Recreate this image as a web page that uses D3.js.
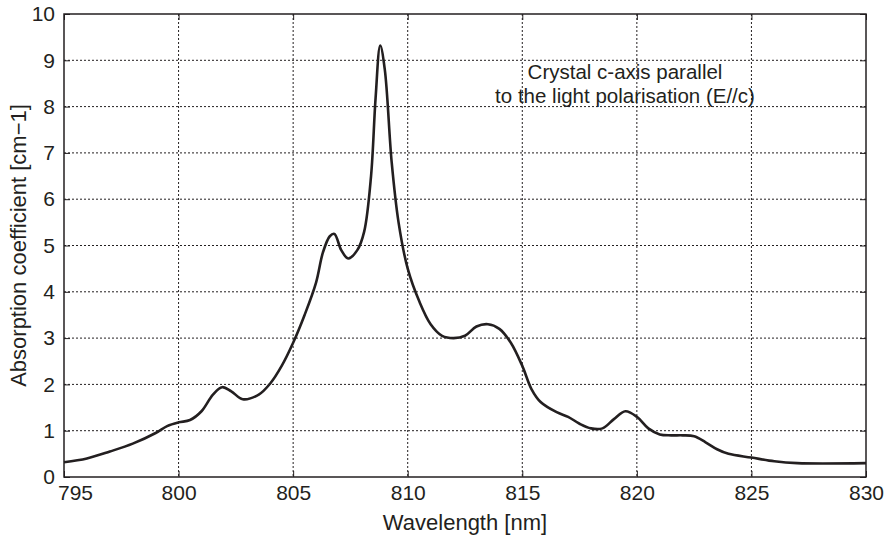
<!DOCTYPE html>
<html>
<head>
<meta charset="utf-8">
<script src="https://cdn.jsdelivr.net/npm/d3@7"></script>
<style>
  body { margin: 0; background: #fff; }
  text { font-family: "Liberation Sans", Arial, sans-serif; fill: #231f20; }
</style>
</head>
<body>
<svg id="chart" width="889" height="543"></svg>
<script>
// wavelength [nm] and absorption coefficient [cm-1]
const wavelength = [795, 796, 797, 798, 799, 799.5, 800, 800.5, 801, 801.5, 801.9, 802.3, 802.8, 803.5, 804, 804.5, 805, 805.5, 806, 806.3, 806.6, 806.8, 807.1, 807.4, 807.8, 808.1, 808.4, 808.6, 808.8, 809.0, 809.3, 809.6, 810, 810.5, 811, 811.5, 812, 812.5, 813, 813.5, 814, 814.5, 815, 815.4, 815.8, 816.5, 817, 817.5, 818, 818.5, 819, 819.5, 820, 820.5, 821, 821.5, 822, 822.5, 823, 823.5, 824, 825, 826, 827, 830];
const absorption = [0.32, 0.4, 0.55, 0.72, 0.95, 1.1, 1.18, 1.23, 1.42, 1.78, 1.94, 1.85, 1.68, 1.78, 2.02, 2.4, 2.9, 3.5, 4.2, 4.85, 5.2, 5.25, 4.9, 4.72, 4.9, 5.3, 6.5, 8.2, 9.32, 8.8, 6.8, 5.5, 4.5, 3.8, 3.3, 3.05, 3.0, 3.05, 3.25, 3.3, 3.2, 2.9, 2.4, 1.9, 1.62, 1.4, 1.3, 1.15, 1.05, 1.05, 1.25, 1.42, 1.3, 1.05, 0.92, 0.9, 0.9, 0.88, 0.75, 0.6, 0.5, 0.42, 0.34, 0.3, 0.3];
const xTicks = [795, 800, 805, 810, 815, 820, 825, 830];
const yTicks = [0, 1, 2, 3, 4, 5, 6, 7, 8, 9, 10];
const noteLines = ["Crystal c-axis parallel", "to the light polarisation (E//c)"];

const margin = {top: 14, right: 23, bottom: 66, left: 64};
const svg = d3.select('#chart');
const width = 889 - margin.left - margin.right,
    height = 543 - margin.top - margin.bottom;

const x = d3.scaleLinear().domain([795, 830]).range([0, width]);
const y = d3.scaleLinear().domain([0, 10]).range([height, 0]);

const g = svg.append('g')
    .attr('transform', 'translate(' + margin.left + ',' + margin.top + ')');

// dotted grid
g.selectAll('.gx').data(xTicks.slice(1, -1)).enter().append('line')
    .attr('x1', d => x(d)).attr('x2', d => x(d))
    .attr('y1', 0).attr('y2', height)
    .attr('stroke', '#231f20').attr('stroke-width', 1)
    .attr('stroke-dasharray', '2 2');
g.selectAll('.gy').data(yTicks.slice(1, -1)).enter().append('line')
    .attr('x1', 0).attr('x2', width)
    .attr('y1', d => y(d)).attr('y2', d => y(d))
    .attr('stroke', '#231f20').attr('stroke-width', 1)
    .attr('stroke-dasharray', '2 2');

// axes with inward ticks
const axisStyle = sel => {
    sel.select('.domain').remove();
    sel.selectAll('line').attr('stroke', '#231f20').attr('stroke-width', 1);
    sel.selectAll('text').style('font-size', '21px');
};
const xAxis = g.append('g').attr('transform', `translate(0,${height})`)
    .call(d3.axisBottom(x).tickValues(xTicks).tickSize(-6).tickPadding(8).tickFormat(d3.format('d')))
    .call(axisStyle);
// first label sits a little right of its tick, clear of the "0"
xAxis.selectAll('.tick text').filter(d => d === 795).attr('dx', 11);
g.append('g')
    .call(d3.axisTop(x).tickValues(xTicks).tickSize(-6).tickFormat(''))
    .call(axisStyle);
g.append('g')
    .call(d3.axisLeft(y).tickValues(yTicks).tickSize(-6).tickPadding(9))
    .call(axisStyle);
g.append('g').attr('transform', `translate(${width},0)`)
    .call(d3.axisRight(y).tickValues(yTicks).tickSize(-6).tickFormat(''))
    .call(axisStyle);

g.append('rect')
    .attr('width', width).attr('height', height)
    .attr('fill', 'none').attr('stroke', '#231f20').attr('stroke-width', 1.5);

// spectrum
const line = d3.line()
    .x((d, i) => x(wavelength[i]))
    .y(d => y(d))
    .curve(d3.curveCatmullRom.alpha(0.5));
g.append('path')
    .datum(absorption)
    .attr('d', line)
    .attr('fill', 'none')
    .attr('stroke', '#231f20')
    .attr('stroke-width', 2.6)
    .attr('stroke-linejoin', 'round');

// annotation
const noteX = 625 - margin.left;
g.append('text')
    .attr('x', noteX).attr('y', 79 - margin.top)
    .attr('text-anchor', 'middle')
    .style('font-size', '20.5px')
    .selectAll('tspan').data(noteLines).enter().append('tspan')
    .attr('x', noteX).attr('dy', (d, i) => i ? 24 : 0)
    .text(d => d);

// axis titles
svg.append('text')
    .attr('x', margin.left + width / 2).attr('y', 530)
    .attr('text-anchor', 'middle')
    .style('font-size', '22px')
    .text('Wavelength [nm]');
svg.append('text')
    .attr('transform', `translate(26,${margin.top + height / 2}) rotate(-90)`)
    .attr('text-anchor', 'middle')
    .style('font-size', '22px')
    .text('Absorption coefficient [cm\u22121]');
</script>
</body>
</html>
